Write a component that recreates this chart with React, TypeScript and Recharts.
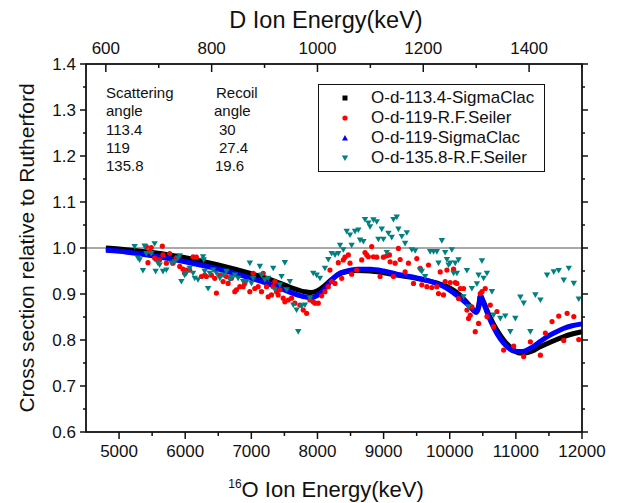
import React from 'react';
import { ComposedChart, Line, Scatter, XAxis, YAxis, ReferenceLine } from 'recharts';

const FONT = '"Liberation Sans", Arial, Helvetica, sans-serif';
const AXIS = '#111';
const TICK_SIZE = 6;
const TICK_MARGIN = 2;
const TICK_GAP = TICK_SIZE + TICK_MARGIN;

// O-d-113.4-SigmaClac (calculated, black)
const calc113E = [4800, 5000, 5500, 6000, 6500, 7000, 7300, 7600, 7800, 7900, 8000, 8100, 8200, 8300, 8450, 8600, 8800, 9000, 9200, 9500, 9800, 10000, 10150, 10300, 10390, 10430, 10465, 10500, 10613, 10815, 10950, 11050, 11150, 11250, 11350, 11470, 11600, 11720, 11850, 12000];
const calc113V = [1.0, 0.998, 0.99, 0.979, 0.963, 0.944, 0.931, 0.914, 0.905, 0.903, 0.907, 0.917, 0.93, 0.941, 0.949, 0.951, 0.95, 0.946, 0.941, 0.934, 0.924, 0.913, 0.898, 0.875, 0.862, 0.87, 0.895, 0.886, 0.848, 0.8, 0.78, 0.772, 0.772, 0.776, 0.784, 0.792, 0.8, 0.807, 0.813, 0.818];

// O-d-119-SigmaClac (calculated, blue)
const calc119E = [4800, 5000, 5500, 6000, 6500, 7000, 7300, 7600, 7800, 7900, 8000, 8100, 8200, 8300, 8450, 8600, 8800, 9000, 9200, 9500, 9700, 9950, 10100, 10250, 10360, 10400, 10440, 10465, 10500, 10613, 10815, 10950, 11020, 11100, 11220, 11350, 11470, 11600, 11720, 11850, 12000];
const calc119V = [0.995, 0.993, 0.983, 0.97, 0.954, 0.934, 0.92, 0.903, 0.894, 0.892, 0.897, 0.91, 0.928, 0.942, 0.95, 0.954, 0.954, 0.95, 0.943, 0.935, 0.928, 0.913, 0.898, 0.88, 0.865, 0.86, 0.872, 0.898, 0.885, 0.843, 0.793, 0.777, 0.775, 0.775, 0.782, 0.795, 0.807, 0.817, 0.825, 0.831, 0.835];

// O-d-119-R.F.Seiler (measured, red)
const seiler119E = [5412, 5437, 5462, 5487, 5538, 5563, 5614, 5654, 5664, 5715, 5765, 5816, 5866, 5917, 5967, 5992, 6018, 6068, 6119, 6169, 6245, 6295, 6321, 6396, 6447, 6472, 6523, 6573, 6624, 6649, 6699, 6750, 6775, 6826, 6876, 6901, 6977, 7028, 7053, 7103, 7154, 7179, 7230, 7255, 7305, 7331, 7356, 7381, 7406, 7432, 7482, 7507, 7558, 7608, 7659, 7735, 7785, 7836, 7886, 7936, 7962, 8012, 8063, 8113, 8164, 8189, 8214, 8265, 8315, 8366, 8391, 8416, 8467, 8492, 8517, 8593, 8669, 8719, 8745, 8770, 8820, 8846, 8896, 8947, 8997, 9048, 9088, 9098, 9149, 9174, 9224, 9250, 9325, 9376, 9452, 9502, 9553, 9578, 9654, 9679, 9729, 9805, 9830, 9856, 9906, 9931, 9957, 10007, 10058, 10083, 10108, 10133, 10159, 10209, 10260, 10285, 10310, 10335, 10386, 10436, 10462, 10487, 10537, 10563, 10613, 10664, 10714, 10815, 10967, 11118, 11219, 11371, 11446, 11547, 11648, 11724, 11775, 11876, 11951];
const seiler119V = [1.003, 0.968, 0.992, 1.001, 0.978, 0.975, 0.974, 1.004, 0.985, 0.967, 0.988, 0.967, 0.978, 0.96, 0.954, 0.945, 0.952, 0.952, 0.981, 0.98, 0.938, 0.941, 0.938, 0.941, 0.934, 0.902, 0.941, 0.927, 0.938, 0.923, 0.934, 0.905, 0.909, 0.916, 0.916, 0.923, 0.905, 0.945, 0.912, 0.916, 0.905, 0.945, 0.916, 0.894, 0.898, 0.916, 0.927, 0.905, 0.898, 0.909, 0.891, 0.883, 0.887, 0.891, 0.88, 0.876, 0.865, 0.858, 0.887, 0.883, 0.88, 0.88, 0.896, 0.905, 0.916, 0.952, 0.927, 0.923, 0.968, 0.934, 0.974, 0.98, 0.985, 0.967, 0.943, 0.952, 0.974, 0.99, 0.985, 0.981, 1.003, 0.981, 0.98, 0.938, 0.98, 0.983, 0.985, 0.97, 0.938, 0.967, 0.999, 0.975, 0.948, 0.967, 0.923, 0.977, 0.956, 0.92, 0.916, 0.963, 0.914, 0.916, 0.901, 0.948, 0.898, 0.927, 0.952, 0.925, 0.954, 0.925, 0.923, 0.89, 0.912, 0.912, 0.865, 0.847, 0.854, 0.872, 0.818, 0.836, 0.901, 0.905, 0.912, 0.851, 0.876, 0.829, 0.862, 0.778, 0.787, 0.764, 0.796, 0.767, 0.815, 0.84, 0.852, 0.799, 0.858, 0.851, 0.801];

// O-d-135.8-R.F.Seiler (measured, teal)
const seiler135E = [5235, 5285, 5311, 5361, 5386, 5412, 5487, 5538, 5553, 5588, 5614, 5664, 5715, 5790, 5841, 5891, 5917, 5942, 5992, 6018, 6068, 6119, 6144, 6194, 6270, 6280, 6295, 6346, 6371, 6422, 6472, 6523, 6573, 6624, 6674, 6699, 6750, 6800, 6876, 6927, 6977, 7002, 7028, 7129, 7154, 7204, 7255, 7331, 7356, 7432, 7457, 7507, 7533, 7583, 7634, 7684, 7709, 7760, 7810, 7886, 7936, 7987, 8038, 8113, 8164, 8214, 8265, 8315, 8341, 8391, 8442, 8492, 8517, 8568, 8618, 8644, 8694, 8719, 8770, 8795, 8846, 8896, 8921, 8972, 8997, 9048, 9073, 9123, 9149, 9199, 9224, 9275, 9325, 9351, 9426, 9477, 9553, 9578, 9628, 9704, 9755, 9805, 9830, 9881, 9931, 9957, 9982, 10007, 10032, 10058, 10083, 10108, 10133, 10209, 10260, 10285, 10335, 10411, 10436, 10487, 10512, 10563, 10638, 10664, 10765, 10840, 10916, 10992, 11068, 11118, 11219, 11295, 11371, 11472, 11573, 11648, 11724, 11800, 11876, 11951];
const seiler135V = [1.003, 0.978, 0.974, 0.951, 1.004, 0.988, 0.988, 1.009, 0.949, 0.967, 0.963, 0.949, 0.952, 0.967, 0.97, 0.978, 0.983, 0.927, 0.941, 0.945, 0.956, 0.945, 0.934, 0.931, 0.981, 0.974, 0.949, 0.912, 0.945, 0.952, 0.945, 0.934, 0.941, 0.949, 0.931, 0.936, 0.941, 0.934, 0.927, 0.927, 0.967, 0.923, 0.934, 0.96, 0.941, 0.931, 0.934, 0.956, 0.909, 0.92, 0.938, 0.968, 0.909, 0.927, 0.876, 0.865, 0.818, 0.873, 0.876, 0.891, 0.945, 0.941, 0.934, 0.956, 0.975, 0.988, 0.985, 0.988, 1.006, 0.996, 1.036, 1.028, 1.006, 1.036, 1.039, 1.017, 1.014, 1.062, 1.054, 1.046, 1.061, 1.057, 1.019, 1.041, 1.019, 0.99, 1.032, 1.023, 1.062, 1.067, 1.041, 1.025, 1.01, 1.033, 0.996, 0.994, 0.952, 0.949, 0.938, 0.992, 0.992, 0.992, 0.967, 1.016, 0.99, 0.975, 0.963, 0.967, 0.996, 0.945, 0.967, 0.945, 0.974, 0.894, 0.951, 0.872, 0.912, 0.922, 0.941, 0.972, 0.934, 0.945, 0.905, 0.854, 0.847, 0.852, 0.818, 0.847, 0.893, 0.88, 0.818, 0.898, 0.887, 0.941, 0.948, 0.951, 0.93, 0.956, 0.923, 0.889];

const oTicks = [5000, 5500, 6000, 6500, 7000, 7500, 8000, 8500, 9000, 9500, 10000, 10500, 11000, 11500, 12000];
const dTicks = [600, 700, 800, 900, 1000, 1100, 1200, 1300, 1400, 1500];
const yTicks = [0.6, 0.65, 0.7, 0.75, 0.8, 0.85, 0.9, 0.95, 1.0, 1.05, 1.1, 1.15, 1.2, 1.25, 1.3, 1.35, 1.4];

const X_DOMAIN = [4500, 12000];
const Y_DOMAIN = [0.6, 1.4];
// deuteron energy on the top axis is the 16O energy divided by 8
const D_PER_O = 1 / 8;

// plot box in page pixels; the chart margins are derived from it
const PLOT = { left: 86, top: 64, right: 582, bottom: 432 };
const LEFT_AXIS_W = 50;
const RIGHT_AXIS_W = 10;
const X_AXIS_H = 30;

const legendItems = [
  { name: 'O-d-113.4-SigmaClac', color: '#000000', shape: 'square' },
  { name: 'O-d-119-R.F.Seiler', color: '#ff0000', shape: 'circle' },
  { name: 'O-d-119-SigmaClac', color: '#0000ff', shape: 'up' },
  { name: 'O-d-135.8-R.F.Seiler', color: '#008080', shape: 'down' },
];

const anglesLeft = ['Scattering', 'angle', '113.4', '119', '135.8'];
const anglesRight = ['Recoil', 'angle', '30', '27.4', '19.6'];
const anglesRightIndent = [3, 1, 6, 6, 2];

const toRows = (e: number[], v: number[]) => e.map((x, i) => ({ e: x, v: v[i] }));

const isMajorY = (v: number) => Math.abs(v * 10 - Math.round(v * 10)) < 1e-6;

// tick labels come from the Recharts axes; the renderers get the label anchor
const renderBottomTick = (props: any) => {
  const v = props.payload.value;
  if (v % 1000 !== 0) return <g key={`b-${v}`} />;
  return (
    <text key={`b-${v}`} x={Number(props.x)} y={Number(props.y) - TICK_GAP + 25} textAnchor="middle" fontSize={17} fill="#111">
      {v}
    </text>
  );
};

const renderTopTick = (props: any) => {
  const v = props.payload.value;
  if (v % 200 !== 0) return <g key={`t-${v}`} />;
  return (
    <text key={`t-${v}`} x={Number(props.x)} y={Number(props.y) + TICK_GAP - 10} textAnchor="middle" fontSize={17} fill="#111">
      {v}
    </text>
  );
};

const renderLeftTick = (props: any) => {
  const v = props.payload.value;
  if (!isMajorY(v)) return <g key={`l-${v}`} />;
  return (
    <text key={`l-${v}`} x={Number(props.x) + TICK_GAP - 10} y={Number(props.y) + 6} textAnchor="end" fontSize={17} fill="#111">
      {v.toFixed(1)}
    </text>
  );
};

const renderRightTick = (props: any) => <g key={`r-${props.payload.value}`} />;

// frame and tick marks, drawn on top of the chart
const xPx = (e: number) => PLOT.left + ((e - X_DOMAIN[0]) / (X_DOMAIN[1] - X_DOMAIN[0])) * (PLOT.right - PLOT.left);
const yPx = (v: number) => PLOT.bottom - ((v - Y_DOMAIN[0]) / (Y_DOMAIN[1] - Y_DOMAIN[0])) * (PLOT.bottom - PLOT.top);

const Frame = () => (
  <svg width={617} height={503} style={{ position: 'absolute', left: 0, top: 0, zIndex: 5, pointerEvents: 'none' }}>
    <rect
      x={PLOT.left}
      y={PLOT.top}
      width={PLOT.right - PLOT.left}
      height={PLOT.bottom - PLOT.top}
      fill="none"
      stroke={AXIS}
      strokeWidth={1.6}
    />
    {oTicks.map((t) => {
      const x = xPx(t);
      return <line key={`ob-${t}`} x1={x} x2={x} y1={PLOT.bottom} y2={PLOT.bottom + (t % 1000 === 0 ? 7 : 4)} stroke={AXIS} strokeWidth={1.5} />;
    })}
    {dTicks.map((t) => {
      const x = xPx(t / D_PER_O);
      return <line key={`dt-${t}`} x1={x} x2={x} y1={PLOT.top} y2={PLOT.top + (t % 200 === 0 ? 8 : 4)} stroke={AXIS} strokeWidth={1.5} />;
    })}
    {yTicks.map((t) => {
      const y = yPx(t);
      const len = isMajorY(t) ? 6 : 3;
      return (
        <g key={`y-${t}`}>
          <line x1={PLOT.left - len} x2={PLOT.left} y1={y} y2={y} stroke={AXIS} strokeWidth={1.5} />
          <line x1={PLOT.right} x2={PLOT.right + len} y1={y} y2={y} stroke={AXIS} strokeWidth={1.5} />
        </g>
      );
    })}
  </svg>
);

const Marker = ({ shape, color, cx, cy }: any) => {
  if (shape === 'square') return <rect x={cx - 2.5} y={cy - 2.5} width={5} height={5} fill={color} />;
  if (shape === 'circle') return <circle cx={cx} cy={cy} r={2.6} fill={color} />;
  if (shape === 'up') return <path d={`M${cx},${cy - 3} L${cx + 3},${cy + 2.5} L${cx - 3},${cy + 2.5} Z`} fill={color} />;
  return <path d={`M${cx - 3.2},${cy - 2.6} L${cx + 3.2},${cy - 2.6} L${cx},${cy + 3} Z`} fill={color} />;
};

const LegendBox = () => (
  <div
    style={{
      position: 'absolute',
      left: 318,
      top: 84,
      zIndex: 4,
      width: 227,
      height: 88,
      boxSizing: 'border-box',
      border: '1.5px solid #111',
      background: '#fff',
      paddingTop: 3,
      fontFamily: FONT,
    }}
  >
    {legendItems.map((item) => (
      <div key={item.name} style={{ display: 'flex', alignItems: 'center', height: 20, fontSize: 17, color: '#111' }}>
        <svg width={52} height={20} style={{ flex: 'none' }}>
          <Marker shape={item.shape} color={item.color} cx={26} cy={10} />
        </svg>
        <span>{item.name}</span>
      </div>
    ))}
  </div>
);

const App = () => {
  const rows113 = toRows(calc113E, calc113V);
  const margin = {
    top: PLOT.top - X_AXIS_H,
    right: 617 - PLOT.right - RIGHT_AXIS_W,
    bottom: 503 - PLOT.bottom - X_AXIS_H,
    left: PLOT.left - LEFT_AXIS_W,
  };
  return (
    <div
      style={{
        position: 'relative',
        width: 617,
        height: 503,
        margin: '-8px 0 0 -8px',
        background: '#fff',
        fontFamily: FONT,
      }}
    >
      <ComposedChart width={617} height={503} margin={margin}>
        <XAxis
          xAxisId="o"
          dataKey="e"
          type="number"
          domain={X_DOMAIN}
          ticks={oTicks}
          interval={0}
          height={X_AXIS_H}
          tickSize={TICK_SIZE}
          tickMargin={TICK_MARGIN}
          tickLine={false}
          tick={renderBottomTick}
          stroke={AXIS}
        />
        <XAxis
          xAxisId="d"
          orientation="top"
          dataKey={(r: any) => r.e * D_PER_O}
          type="number"
          domain={[X_DOMAIN[0] * D_PER_O, X_DOMAIN[1] * D_PER_O]}
          ticks={dTicks}
          interval={0}
          height={X_AXIS_H}
          tickSize={TICK_SIZE}
          tickMargin={TICK_MARGIN}
          tickLine={false}
          tick={renderTopTick}
          stroke={AXIS}
        />
        <YAxis
          yAxisId="l"
          dataKey="v"
          type="number"
          domain={Y_DOMAIN}
          ticks={yTicks}
          interval={0}
          width={LEFT_AXIS_W}
          tickSize={TICK_SIZE}
          tickMargin={TICK_MARGIN}
          tickLine={false}
          tick={renderLeftTick}
          stroke={AXIS}
        />
        <YAxis
          yAxisId="r"
          orientation="right"
          dataKey="v"
          type="number"
          domain={Y_DOMAIN}
          ticks={yTicks}
          interval={0}
          width={RIGHT_AXIS_W}
          tickSize={TICK_SIZE}
          tickMargin={TICK_MARGIN}
          tickLine={false}
          tick={renderRightTick}
          stroke={AXIS}
        />
        <ReferenceLine xAxisId="o" yAxisId="l" y={1.0} stroke="#555" strokeWidth={1} />
        {/* invisible copy of the black curve, only to give the top and right axes their data */}
        <Line
          xAxisId="d"
          yAxisId="r"
          data={rows113}
          dataKey="v"
          stroke="none"
          strokeWidth={0}
          dot={false}
          legendType="none"
          isAnimationActive={false}
        />
        <Line
          xAxisId="o"
          yAxisId="l"
          data={rows113}
          dataKey="v"
          type="monotone"
          stroke="#000"
          strokeWidth={5}
          dot={false}
          isAnimationActive={false}
        />
        <Scatter
          xAxisId="o"
          yAxisId="l"
          data={toRows(seiler119E, seiler119V)}
          dataKey="v"
          fill="#ff0000"
          shape={(p: any) => <Marker shape="circle" color="#ff0000" cx={p.cx} cy={p.cy} />}
          isAnimationActive={false}
        />
        <Line
          xAxisId="o"
          yAxisId="l"
          data={toRows(calc119E, calc119V)}
          dataKey="v"
          type="monotone"
          stroke="#0000ff"
          strokeWidth={5}
          dot={false}
          isAnimationActive={false}
        />
        <Scatter
          xAxisId="o"
          yAxisId="l"
          data={toRows(seiler135E, seiler135V)}
          dataKey="v"
          fill="#008080"
          shape={(p: any) => <Marker shape="down" color="#008080" cx={p.cx} cy={p.cy} />}
          isAnimationActive={false}
        />
        <text x={326} y={28} textAnchor="middle" fontSize={23.5} fill="#111">
          D Ion Energy(keV)
        </text>
        <text x={326} y={497} textAnchor="middle" fontSize={22} fill="#111">
          <tspan fontSize={12} dy={-9}>16</tspan>
          <tspan dy={9}>O Ion Energy(keV)</tspan>
        </text>
        <text transform="translate(33.5,248) rotate(-90)" textAnchor="middle" fontSize={21} fill="#111">
          Cross section relative to Rutherford
        </text>
      </ComposedChart>
      <Frame />
      <LegendBox />
      <div style={{ position: 'absolute', left: 106, top: 84, fontSize: 15, lineHeight: '18.3px', color: '#111' }}>
        {anglesLeft.map((t) => (
          <div key={t}>{t}</div>
        ))}
      </div>
      <div style={{ position: 'absolute', left: 213, top: 84, fontSize: 15, lineHeight: '18.3px', color: '#111' }}>
        {anglesRight.map((t, i) => (
          <div key={t} style={{ paddingLeft: anglesRightIndent[i] }}>
            {t}
          </div>
        ))}
      </div>
    </div>
  );
};

export default App;
